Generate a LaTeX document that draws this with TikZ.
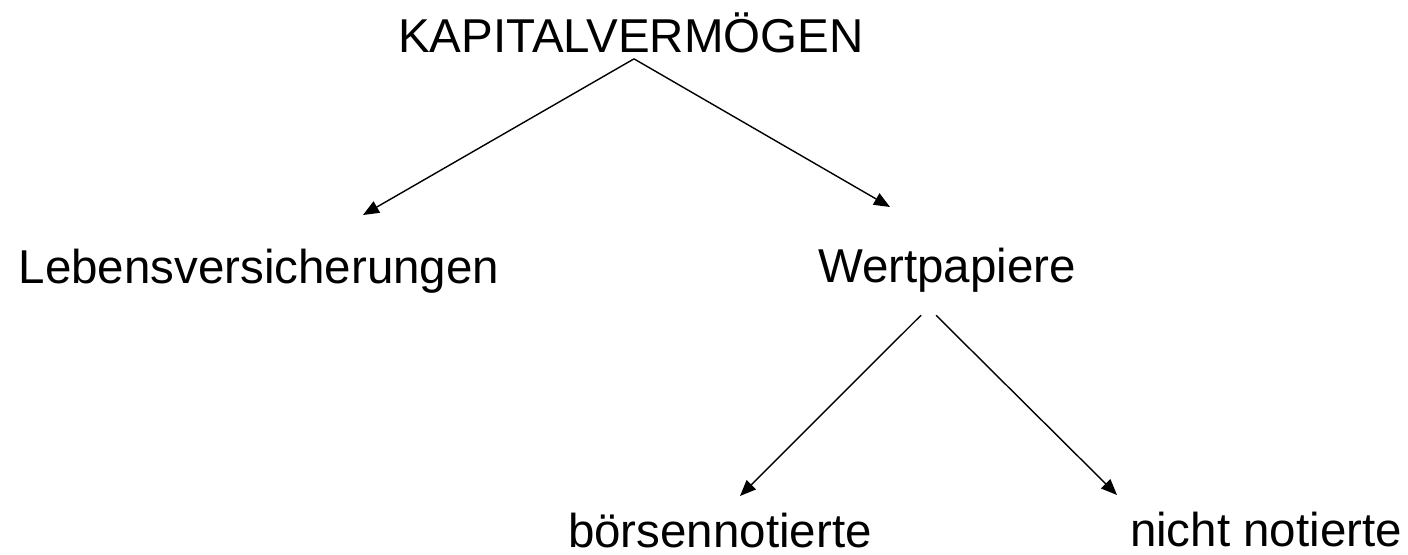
\documentclass[tikz,border=0pt]{standalone}
\usepackage{fontspec}
\setmainfont{Liberation Sans}
\usetikzlibrary{arrows.meta,calc}

\begin{document}
\begin{tikzpicture}[
  x=0.5pt, y=-0.5pt,
  word/.style={inner sep=0pt, anchor=base, font=\fontsize{23.75pt}{28pt}\selectfont},
  arr/.style={-{Triangle[length=8pt, width=6.5pt]}, line width=0.7pt}
]
  \useasboundingbox (0,0) rectangle (1408,555);

  % Top: Kapitalvermoegen
  \node[word] (kapital) at (631,53) {KAPITALVERMÖGEN};

  % Second level
  \node[word] (leben) at (259,284) {Lebensversicherungen};
  \node[word] (wert)  at (947,283) {Wertpapiere};
  \coordinate (lebenTip) at (363,215);
  \coordinate (wertTip)  at (890,207);
  \draw[arr] ($(kapital.south)+(3,5)$) -- (lebenTip);
  \draw[arr] ($(kapital.south)+(3,5)$) -- (wertTip);

  % Third level: Wertpapiere split
  \node[word] (boerse) at (720,547)  {börsennotierte};
  \node[word] (nicht)  at (1266,546) {nicht notierte};
  \coordinate (boerseTip) at (740,496);
  \coordinate (nichtTip)  at (1117,495);
  \draw[arr] ($(wert.south)+(-26,22)$) -- (boerseTip);
  \draw[arr] ($(wert.south)+(-11,22)$) -- (nichtTip);
\end{tikzpicture}
\end{document}
